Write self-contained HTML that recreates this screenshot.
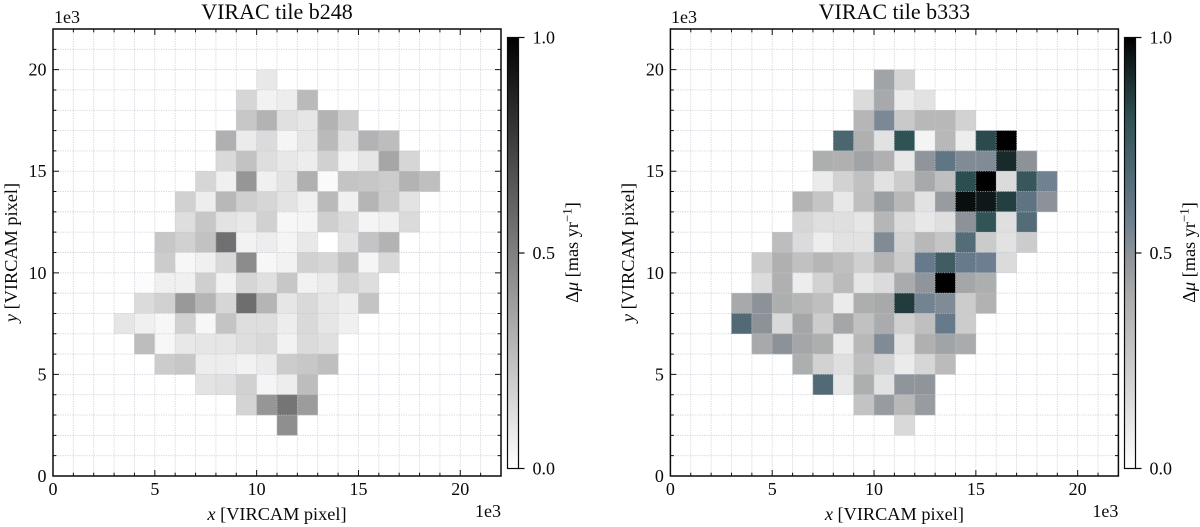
<!DOCTYPE html>
<html lang="en">
<head>
<meta charset="utf-8">
<title>VIRAC tiles b248 and b333</title>
<style>
html,body{margin:0;padding:0;background:#fff;width:1200px;height:527px;overflow:hidden}
svg{display:block}
text{font-family:"Liberation Serif",serif;fill:#0a0a0a}
</style>
</head>
<body>
<svg id="chart" xmlns="http://www.w3.org/2000/svg" width="1200" height="527" viewBox="0 0 1200 527">
  <defs id="defs"></defs>
  <g id="panel-left"></g>
  <g id="panel-right"></g>
  <text x="277" y="19" font-size="22" text-anchor="middle">VIRAC tile b248</text>
  <text x="894.4" y="19" font-size="22" text-anchor="middle">VIRAC tile b333</text>
  <text x="54" y="23" font-size="18">1e3</text>
  <text x="671" y="23" font-size="18">1e3</text>
  <text x="501" y="517" font-size="18" text-anchor="end">1e3</text>
  <text x="1118.4" y="517" font-size="18" text-anchor="end">1e3</text>
  <text x="277" y="520" font-size="18.3" text-anchor="middle"><tspan font-style="italic">x</tspan> [VIRCAM pixel]</text>
  <text x="894.4" y="520" font-size="18.3" text-anchor="middle"><tspan font-style="italic">x</tspan> [VIRCAM pixel]</text>
  <text transform="translate(17 252.5) rotate(-90)" font-size="18.3" text-anchor="middle"><tspan font-style="italic">y</tspan> [VIRCAM pixel]</text>
  <text transform="translate(634 252.5) rotate(-90)" font-size="18.3" text-anchor="middle"><tspan font-style="italic">y</tspan> [VIRCAM pixel]</text>
  <text transform="translate(578 252.5) rotate(-90)" font-size="18.3" text-anchor="middle">Δ<tspan font-style="italic">μ</tspan> [mas yr<tspan dy="-6.5" font-size="13">−1</tspan><tspan dy="6.5">]</tspan></text>
  <text transform="translate(1195 252.5) rotate(-90)" font-size="18.3" text-anchor="middle">Δ<tspan font-style="italic">μ</tspan> [mas yr<tspan dy="-6.5" font-size="13">−1</tspan><tspan dy="6.5">]</tspan></text>
</svg>
<script>
const n = null;
const binColumns = [3,4,5,6,7,8,9,10,11,12,13,14,15,16,17,18];
const binRows = [19,18,17,16,15,14,13,12,11,10,9,8,7,6,5,4,3,2];
const axisTicks = [0,5,10,15,20];
const colorbarTicks = [0,0.5,1];
const colorbarTickLabels = ["0.0","0.5","1.0"];
const deltaMuB248 = [
 [n,n,n,n,n,n,n,.09,n,n,n,n,n,n,n,n],
 [n,n,n,n,n,n,.16,.05,.07,.27,n,n,n,n,n,n],
 [n,n,n,n,n,n,.22,.30,.12,.10,.30,.20,n,n,n,n],
 [n,n,n,n,n,.31,.08,.14,.04,.10,.27,.12,.30,.26,n,n],
 [n,n,n,n,n,.15,.24,.13,.09,.07,.18,.05,.10,.35,.16,n],
 [n,n,n,n,.16,.06,.41,.06,.11,.31,.02,.23,.22,.20,.30,.25],
 [n,n,n,.18,.07,.28,.19,.16,.11,.06,.27,.06,.29,.20,.11,n],
 [n,n,n,.13,.22,.11,.09,.18,.03,.04,.19,.14,.04,.06,.14,n],
 [n,n,.22,.18,.24,.56,.05,.07,.04,.09,0,.11,.23,.30,n,n],
 [n,n,.20,.03,.06,.15,.45,.03,.05,.18,.16,.24,.04,.15,n,n],
 [n,.01,.06,.06,.19,.05,.16,.12,.22,.05,.08,.17,.13,n,n,n],
 [n,.14,.18,.40,.29,.16,.57,.29,.10,.15,.10,.07,.23,n,n,n],
 [.10,.06,.03,.18,.03,.23,.13,.13,.07,.15,.10,.06,n,n,n,n],
 [n,.26,.03,.09,.10,.10,.13,.15,.05,.14,.12,n,n,n,n,n],
 [n,n,.20,.22,.07,.07,.05,.08,.20,.22,.25,n,n,n,n,n],
 [n,n,n,n,.11,.12,.18,.04,.07,.26,n,n,n,n,n,n],
 [n,n,n,n,n,n,.17,.41,.54,.39,n,n,n,n,n,n],
 [n,n,n,n,n,n,n,n,.44,n,n,n,n,n,n,n]
];
const deltaMuB333 = [
 [n,n,n,n,n,n,n,.43,.19,n,n,n,n,n,n,n],
 [n,n,n,n,n,n,.16,.41,.09,.13,n,n,n,n,n,n],
 [n,n,n,n,n,n,.35,.54,.25,.34,.34,.20,n,n,n,n],
 [n,n,n,n,n,.70,.38,.13,.81,.05,.34,.08,.83,1,n,n],
 [n,n,n,n,.39,.38,.43,.38,.10,.49,.62,.53,.53,.91,.50,n],
 [n,n,n,n,.09,.20,.29,.13,.23,.41,.30,.82,1,.16,.78,.57],
 [n,n,n,.36,.27,.10,.30,.45,.34,.13,.46,.97,.95,.86,.63,.50],
 [n,n,n,.18,.14,.14,.11,.35,.16,.10,.14,.50,.80,.14,.67,n],
 [n,n,.31,.16,.08,.13,.13,.53,.20,.34,.27,.67,.24,.13,.23,n],
 [n,.23,.38,.29,.35,.30,.21,.36,.24,.60,.75,.60,.58,.16,n,n],
 [n,.16,.38,.08,.20,.32,.11,.16,.40,.49,1,.42,.39,n,n,n],
 [.41,.50,.39,.35,.30,.09,.39,.41,.87,.56,.53,.23,.37,n,n,n],
 [.68,.50,.17,.42,.23,.42,.29,.40,.21,.30,.60,.23,n,n,n,n],
 [n,.41,.50,.42,.39,.09,.34,.53,.13,.38,.43,.40,n,n,n,n],
 [n,n,n,.39,.20,.14,.30,.20,.09,.18,.32,n,n,n,n,n],
 [n,n,n,n,.68,.10,.39,.13,.49,.49,n,n,n,n,n,n],
 [n,n,n,n,n,n,.28,.46,.34,.46,n,n,n,n,n,n],
 [n,n,n,n,n,n,n,n,.17,n,n,n,n,n,n,n]
];
const greyStops = [[0,255,255,255],[1,0,0,0]];
const tealStops = [[0,255,255,255],[.19,212,212,212],[.38,176,176,176],[.5,140,146,152],[.58,108,126,144],[.7,76,102,112],[.81,47,82,84],[.885,31,53,54],[.96,12,20,20],[1,0,0,0]];

const SVG_NS = "http://www.w3.org/2000/svg";
const AXIS_MAX = 22;
function make(parent, tag, attrs, text) {
  const el = document.createElementNS(SVG_NS, tag);
  for (const k in attrs) el.setAttribute(k, attrs[k]);
  if (text !== undefined) el.textContent = text;
  parent.appendChild(el);
  return el;
}
function colorAt(stops, v) {
  const t = Math.max(0, Math.min(1, v));
  for (let i = 1; i < stops.length; i++) {
    if (t <= stops[i][0]) {
      const a = stops[i-1], b = stops[i], f = (t - a[0]) / (b[0] - a[0]);
      const c = [1,2,3].map(j => Math.round(a[j] + (b[j] - a[j]) * f));
      return "rgb(" + c.join(",") + ")";
    }
  }
  return "rgb(0,0,0)";
}
function drawPanel(groupId, tag, values, stops, left) {
  const g = document.getElementById(groupId);
  const w = 448, top = 29, bottom = 476, right = left + w;
  const X = d => left + d / AXIS_MAX * w;
  const Y = d => bottom - d / AXIS_MAX * (bottom - top);
  // cells
  binRows.forEach((rowVal, r) => {
    binColumns.forEach((colVal, c) => {
      const v = values[r][c];
      if (v === null) return;
      const cell = make(g, "rect", {x: X(colVal), y: Y(rowVal + 1), width: X(colVal + 1) - X(colVal), height: Y(rowVal) - Y(rowVal + 1), fill: colorAt(stops, v), stroke: colorAt(stops, v), "stroke-width": 0.3});
      
      
    });
  });
  // grid
  for (let d = 1; d < AXIS_MAX; d++) {
    const gv = make(g, "line", {x1: X(d), x2: X(d), y1: top, y2: bottom, stroke: "#bcc4d0", "stroke-opacity": 0.75, "stroke-width": 0.9, "stroke-dasharray": "1.2 1.2"});
    
    
    const gh = make(g, "line", {y1: Y(d), y2: Y(d), x1: left, x2: right, stroke: "#bcc4d0", "stroke-opacity": 0.75, "stroke-width": 0.9, "stroke-dasharray": "1.2 1.2"});
    
    
  }
  // ticks
  for (let d = 1; d < AXIS_MAX; d++) {
    const len = d % 5 === 0 ? 6 : 3.4;
    const tickPaths = "M" + X(d) + " " + bottom + "v" + (-len) + "M" + X(d) + " " + top + "v" + len +
      "M" + left + " " + Y(d) + "h" + len + "M" + right + " " + Y(d) + "h" + (-len);
    const tk = make(g, "path", {d: tickPaths, stroke: "#111", "stroke-width": 1, fill: "none"});
    
    
  }
  const frame = make(g, "rect", {x: left, y: top, width: w, height: bottom - top, fill: "none", stroke: "#0a0a0a", "stroke-width": 1.5});
  
  
  // tick labels
  axisTicks.forEach(t => {
    const xl = make(g, "text", {x: X(t), y: 495, "font-size": 18, "text-anchor": "middle"}, String(t));
    
    
    const yl = make(g, "text", {x: left - 6.5, y: Y(t) + 6, "font-size": 18, "text-anchor": "end"}, String(t));
    
    
  });
  // colorbar
  const defs = document.getElementById("defs");
  const grad = make(defs, "linearGradient", {id: "cmap-" + tag, x1: 0, y1: 1, x2: 0, y2: 0});
  stops.forEach(s => {
    make(grad, "stop", {offset: s[0], "stop-color": colorAt(stops, s[0])});
  });
  const cbL = Math.round(left + 454) + 0.5, cbW = 11, cbT = 37.5, cbB = 468.5;
  const CY = v => cbB - v * (cbB - cbT);
  const bar = make(g, "rect", {x: cbL, y: cbT, width: cbW, height: cbB - cbT, fill: "url(#cmap-" + tag + ")", stroke: "#0a0a0a", "stroke-width": 1.2});
  
  
  colorbarTicks.forEach((t, i) => {
    const ct = make(g, "line", {x1: cbL + cbW, x2: cbL + cbW + 6, y1: CY(t), y2: CY(t), stroke: "#0a0a0a", "stroke-width": 1.2});
    
    
    const cl = make(g, "text", {x: cbL + cbW + 14, y: CY(t) + 6, "font-size": 18}, colorbarTickLabels[i]);
    
    
  });
}
drawPanel("panel-left", "b248", deltaMuB248, greyStops, 53);
drawPanel("panel-right", "b333", deltaMuB333, tealStops, 670.4);
</script>
</body>
</html>
